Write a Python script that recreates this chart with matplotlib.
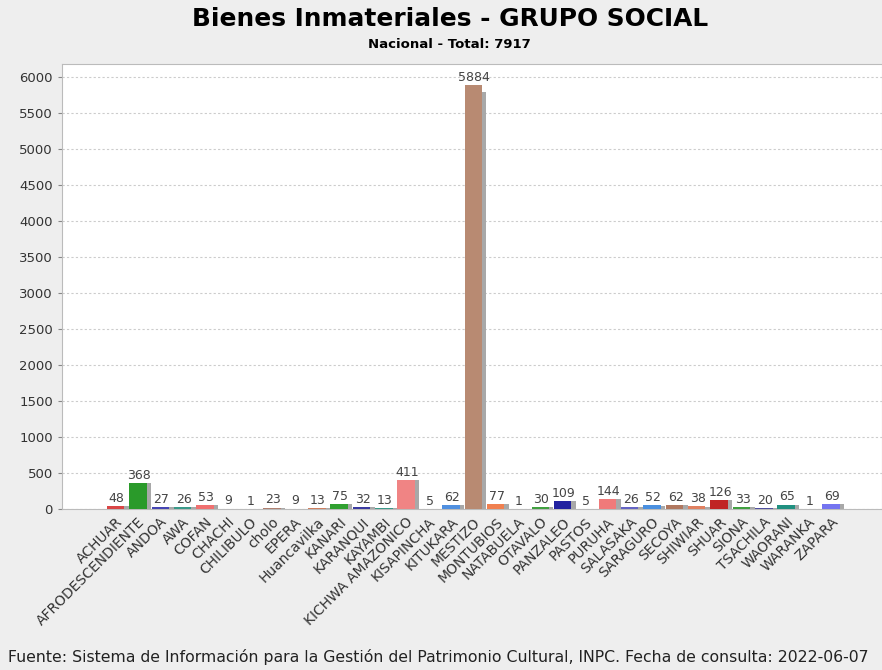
import matplotlib
matplotlib.use('Agg')
import matplotlib.pyplot as plt

grupos = ['ACHUAR', 'AFRODESCENDIENTE', 'ANDOA', 'AWA', 'COFAN', 'CHACHI',
          'CHILIBULO', 'cholo', 'EPERA', 'Huancavilka', 'KANARI', 'KARANQUI',
          'KAYAMBI', 'KICHWA AMAZONICO', 'KISAPINCHA', 'KITUKARA', 'MESTIZO',
          'MONTUBIOS', 'NATABUELA', 'OTAVALO', 'PANZALEO', 'PASTOS', 'PURUHA',
          'SALASAKA', 'SARAGURO', 'SECOYA', 'SHIWIAR', 'SHUAR', 'SIONA',
          'TSACHILA', 'WAORANI', 'WARANKA', 'ZAPARA']
bienes = [48, 368, 27, 26, 53, 9, 1, 23, 9, 13, 75, 32, 13, 411, 5, 62, 5884,
          77, 1, 30, 109, 5, 144, 26, 52, 62, 38, 126, 33, 20, 65, 1, 69]

colores = ['#d94545', '#2a9a2a', '#4646b4', '#3a9a8a', '#f07070', '#7a7ac8',
           '#c08060', '#b08070', '#d07060', '#d08060', '#30a030', '#3a3aa0',
           '#3a9a8a', '#f08484', '#8080c0', '#5090e0', '#b88a72', '#f08050',
           '#8080c0', '#40a040', '#2222a0', '#a0a0a0', '#f07a7a', '#6464c4',
           '#4a90e0', '#b07860', '#e08060', '#c02424', '#40a040', '#5050a0',
           '#209080', '#8080c0', '#7474f0']

fig = plt.figure(figsize=(8.82, 6.70), dpi=100)
fig.patch.set_facecolor('#eeeeee')
ax = fig.add_axes([0.0703, 0.240, 0.93, 0.6645])
ax.set_facecolor('white')

x = list(range(len(grupos)))
ancho = 0.78
# sombra gris desplazada
ax.bar([i + 0.2 for i in x], [v * 0.985 for v in bienes], width=ancho,
       color='#a8a8a8', zorder=2)
ax.bar(x, bienes, width=ancho, color=colores, zorder=3)

for i, v in zip(x, bienes):
    ax.text(i + 0.05, v + 15, str(v), ha='center', va='bottom',
            fontsize=9, color='#444444', zorder=4)

ax.set_xlim(-2.4, 34.3)
ax.set_ylim(0, 6180)
ax.set_yticks(range(0, 6001, 500))
ax.tick_params(axis='y', labelsize=9.5, length=3, color='#888888',
               labelcolor='#333333')
ax.set_xticks(x)
ax.set_xticklabels(grupos, rotation=45, ha='right', rotation_mode='anchor',
                   fontsize=10, color='#333333')
ax.tick_params(axis='x', length=0, pad=4)
ax.grid(axis='y', color='#cccccc', linestyle=(0, (2, 2)), linewidth=0.8,
        zorder=0)
for s in ax.spines.values():
    s.set_color('#bbbbbb')

fig.text(0.51, 0.972, 'Bienes Inmateriales - GRUPO SOCIAL', ha='center',
         va='center', fontsize=17.9, fontweight='bold')
fig.text(0.51, 0.933, 'Nacional - Total: 7917', ha='center', va='center',
         fontsize=9.5, fontweight='bold')
fig.text(0.009, 0.019, 'Fuente: Sistema de Información para la Gestión del '
         'Patrimonio Cultural, INPC. Fecha de consulta: 2022-06-07',
         ha='left', va='center', fontsize=11.3, color='#222222')

fig.savefig('out.png', dpi=100, facecolor=fig.get_facecolor())
